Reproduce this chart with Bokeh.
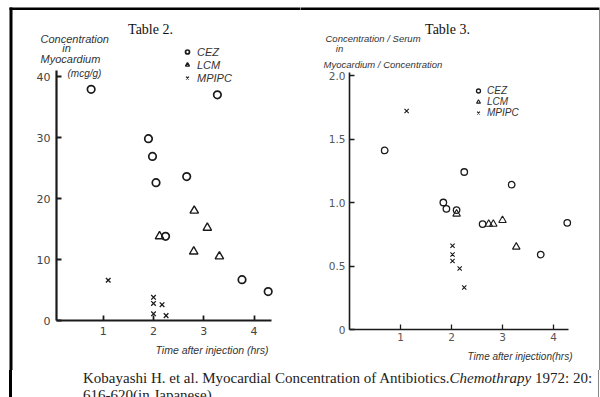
from bokeh.plotting import figure
from bokeh.models import (Range1d, FixedTicker, Label, Legend, LegendItem,
                          BoxAnnotation, Div, PrintfTickFormatter)
from bokeh.layouts import row, column
from bokeh.embed import file_html
from bokeh.resources import INLINE

# ---------------- data ----------------
# Table 2: concentration in myocardium (mcg/g) vs time after injection (hrs)
t2_cez_t = [0.76, 1.90, 1.98, 2.05, 2.24, 2.66, 3.27, 3.76, 4.28]
t2_cez_v = [37.9, 29.8, 26.9, 22.6, 13.8, 23.6, 37.0, 6.7, 4.75]
t2_lcm_t = [2.12, 2.81, 3.07, 2.80, 3.31]
t2_lcm_v = [13.8, 18.0, 15.2, 11.3, 10.5]
t2_mp_t = [1.10, 2.00, 2.00, 2.17, 2.00, 2.25]
t2_mp_v = [6.6, 3.8, 2.8, 2.6, 1.1, 0.8]

# Table 3: ratio myocardium / serum concentration vs time
t3_cez_t = [0.69, 1.84, 1.90, 2.10, 2.25, 2.61, 3.18, 3.75, 4.27]
t3_cez_v = [1.41, 1.00, 0.95, 0.94, 1.24, 0.83, 1.14, 0.59, 0.84]
t3_lcm_t = [2.10, 2.73, 2.82, 3.00, 3.27]
t3_lcm_v = [0.91, 0.83, 0.83, 0.86, 0.65]
t3_mp_t = [1.12, 2.02, 2.02, 2.02, 2.16, 2.25]
t3_mp_v = [1.72, 0.66, 0.59, 0.54, 0.48, 0.33]

series_names = ["CEZ", "LCM", "MPIPC"]
x_ticks = [1, 2, 3, 4]
t2_y_ticks = [0, 10, 20, 30, 40]
t3_y_ticks = [0, 0.5, 1.0, 1.5, 2.0]

caption = ('Kobayashi H. et al. Myocardial Concentration of Antibiotics.'
           '<i>Chemothrapy</i> 1972: 20:<br>616-620(in Japanese)')

# ---------------- helpers: page pixel -> data coords (for annotations) ----
def L(px, py):
    return (px - 52.4) / 50.3, (320 - py) / 6.1


def R(px, py):
    return (px - 349) / 51.0, (329 - py) / 127.0


INK = "#1a1a1a"
SANS = "Liberation Sans"
SERIF = "Liberation Serif"
W, H = 300, 370


def style_axes(p, lw, label_color, label_size, y_standoff, x_standoff):
    for ax in p.axis:
        ax.axis_line_color = INK
        ax.axis_line_width = lw
        ax.major_tick_line_color = INK
        ax.major_tick_line_width = lw * 0.8
        ax.major_tick_in = 5
        ax.major_tick_out = 0
        ax.minor_tick_line_color = None
        ax.major_label_text_font = "DejaVu Sans"
        ax.major_label_text_font_size = label_size
        ax.major_label_text_color = label_color
    p.yaxis.major_label_standoff = y_standoff
    p.xaxis.major_label_standoff = x_standoff


def add_label(p, xy, text, size, style="normal", font=SANS, align="left",
              color="#333"):
    p.add_layout(Label(x=xy[0], y=xy[1], text=text, text_font=font,
                       text_font_size=size, text_font_style=style,
                       text_align=align, text_baseline="alphabetic",
                       text_color=color))


def add_box(p, a, b, color="black"):
    p.add_layout(BoxAnnotation(left=a[0], right=b[0], top=a[1], bottom=b[1],
                               fill_color=color, fill_alpha=1,
                               line_color=None, level="overlay"))


def add_markers(p, data, sizes, lws):
    rs = []
    markers = ["circle", "triangle", "x"]
    for (t, v), m, s, w in zip(data, markers, sizes, lws):
        rs.append(p.scatter(t, v, marker=m, size=s, fill_color=None,
                            line_color=INK, line_width=w))
    return rs


def add_legend(p, rs, loc, size, standoff, row_h):
    leg = Legend(items=[LegendItem(label=n, renderers=[r])
                        for n, r in zip(series_names, rs)],
                 location=loc, background_fill_alpha=0,
                 border_line_color=None, padding=0, margin=0, spacing=0,
                 glyph_width=10, glyph_height=row_h, label_height=row_h,
                 label_standoff=standoff, label_text_font=SANS,
                 label_text_font_size=size, label_text_font_style="italic",
                 label_text_color="#333")
    p.add_layout(leg)


def make_fig(xmap, x_page0):
    xa, ya = xmap(x_page0, 0)
    xb, yb = xmap(x_page0 + W, H)
    p = figure(width=W, height=H, x_range=Range1d(xa, xb),
               y_range=Range1d(yb, ya), output_backend="svg",
               toolbar_location=None, min_border_left=0, min_border_right=0,
               min_border_top=0, min_border_bottom=0)
    p.grid.visible = False
    p.outline_line_color = None
    return p


# ---------------- Table 2 ----------------
p1 = make_fig(L, 0)
ax_x0, _ = L(56, 0)
ax_x1, _ = L(271, 0)
_, ax_y1 = L(0, 70)
p1.xaxis.ticker = FixedTicker(ticks=x_ticks)
p1.yaxis.ticker = FixedTicker(ticks=t2_y_ticks)
p1.xaxis.fixed_location = 0
p1.yaxis.fixed_location = ax_x0
p1.xaxis.bounds = (ax_x0, ax_x1)
p1.yaxis.bounds = (0, ax_y1)
style_axes(p1, 2.2, "#444", "11px", 6, 6)

r1 = add_markers(p1, [(t2_cez_t, t2_cez_v), (t2_lcm_t, t2_lcm_v),
                      (t2_mp_t, t2_mp_v)], [7.5, 8.5, 6.5], [1.7, 1.4, 1.3])
add_legend(p1, r1, (182, 286), "11px", 5, 13)

add_label(p1, L(150, 29), "Table 2.", "14px", font=SERIF, align="center",
          color="#111")
add_label(p1, L(40, 38), "Concentration", "11px", "italic")
add_label(p1, L(66, 47.5), "in", "11px", "italic", align="center")
add_label(p1, L(40, 58.5), "Myocardium", "11px", "italic")
add_label(p1, L(67, 73), "(mcg/g)", "10px", "italic")
add_label(p1, L(155, 349), "Time after injection (hrs)", "10.5px", "italic")

# frame of the scanned page
add_box(p1, L(9, 7), L(12, 372))
add_box(p1, L(9, 7), L(301, 9.5))

# ---------------- Table 3 ----------------
p2 = make_fig(R, 300)
bx1, _ = R(568, 0)
_, by1 = R(0, 72)
p2.xaxis.ticker = FixedTicker(ticks=x_ticks)
p2.yaxis.ticker = FixedTicker(ticks=t3_y_ticks)
p2.yaxis.formatter = PrintfTickFormatter(format="%.1f")
p2.yaxis.major_label_overrides = {0: "0"}
p2.xaxis.fixed_location = 0
p2.yaxis.fixed_location = 0
p2.xaxis.bounds = (0, bx1)
p2.yaxis.bounds = (0, by1)
style_axes(p2, 1.6, "#555", "10.5px", 4, 3)

r2 = add_markers(p2, [(t3_cez_t, t3_cez_v), (t3_lcm_t, t3_lcm_v),
                      (t3_mp_t, t3_mp_v)], [6.5, 7.5, 6], [1.3, 1.1, 1.1])
add_legend(p2, r2, (173, 252), "10px", 4, 11)

add_label(p2, R(447, 29), "Table 3.", "14px", font=SERIF, align="center",
          color="#111")
add_label(p2, R(325, 38), "Concentration / Serum", "9.5px", "italic")
add_label(p2, R(339, 48), "in", "9.5px", "italic", align="center")
add_label(p2, R(323, 64), "Myocardium / Concentration", "9.5px", "italic")
add_label(p2, R(572, 356), "Time after injection(hrs)", "10px", "italic",
          align="right")

add_box(p2, R(299, 7), R(599, 9.5))
add_box(p2, R(598.5, 8), R(599.5, 372), color="#888888")

# ---------------- caption ----------------
cap = Div(text=caption, width=600, height=27, margin=0,
          styles={"font-family": "'Liberation Serif', serif",
                  "font-size": "15px", "line-height": "17px",
                  "color": "#222", "white-space": "nowrap",
                  "overflow": "hidden", "padding-left": "83px",
                  "box-sizing": "border-box",
                  "background": "linear-gradient(to right, white 9px, "
                                "black 9px, black 12px, white 12px, "
                                "white 598px, #888 598px, #888 599px, "
                                "white 599px)"})

layout = column(row(p1, p2), cap)
open("out.html", "w").write(file_html(layout, INLINE))
